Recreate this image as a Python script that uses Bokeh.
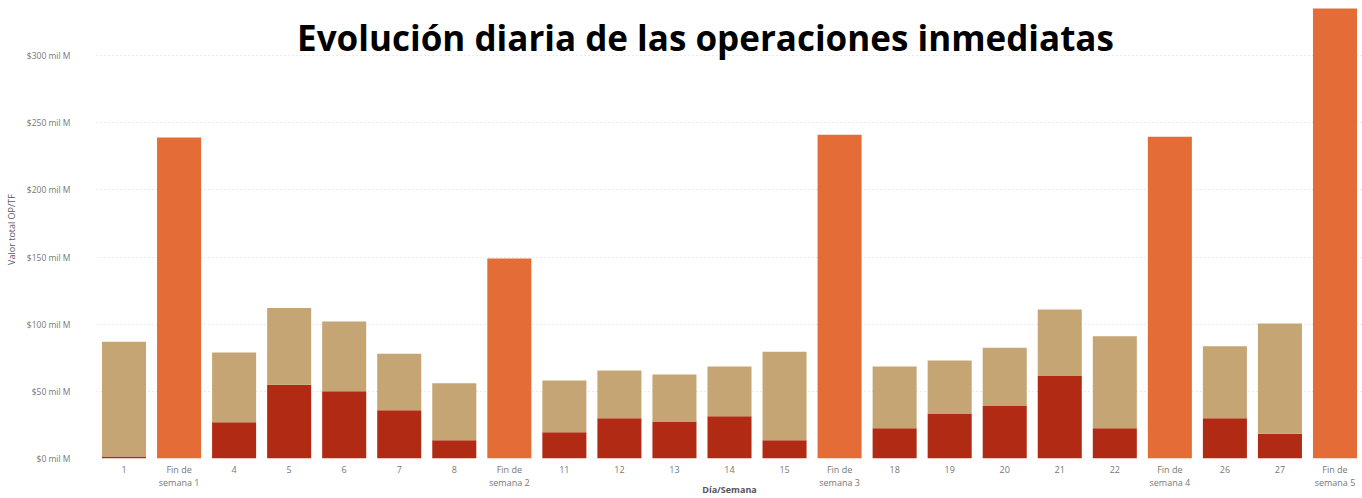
from bokeh.plotting import figure
from bokeh.models import ColumnDataSource, FactorRange, Range1d, Label, FixedTicker, CustomJSTickFormatter
from bokeh.embed import file_html
from bokeh.resources import INLINE

categorias = ["1", "Fin de\nsemana 1", "4", "5", "6", "7", "8", "Fin de\nsemana 2",
              "11", "12", "13", "14", "15", "Fin de\nsemana 3", "18", "19", "20", "21", "22",
              "Fin de\nsemana 4", "26", "27", "Fin de\nsemana 5"]
# valores en miles de millones (mil M)
total_dia = [87, 0, 79, 112, 102, 78, 56, 0,
             58, 65.5, 62.5, 68.5, 79.5, 0, 68.5, 73, 82.5, 111, 91,
             0, 83.5, 100.5, 0]
serie_roja = [1.5, 0, 27, 55, 50, 36, 13.5, 0,
              19.5, 30, 27.5, 31.5, 13.5, 0, 22.5, 33.5, 39, 61.5, 22.5,
              0, 30, 18.5, 0]
fin_de_semana = [0, 239, 0, 0, 0, 0, 0, 149,
                 0, 0, 0, 0, 0, 241, 0, 0, 0, 0, 0,
                 239.5, 0, 0, 335]
y_ticks = [0, 50, 100, 150, 200, 250, 300]

serie_tan = [t - r for t, r in zip(total_dia, serie_roja)]

source = ColumnDataSource(dict(cat=categorias, roja=serie_roja, tan=serie_tan, fin=fin_de_semana))

p = figure(x_range=FactorRange(*categorias), y_range=Range1d(0, 341),
           width=1362, height=498, output_backend="svg", toolbar_location=None,
           min_border_top=0, min_border_right=0, min_border_left=96, min_border_bottom=0)

p.vbar_stack(["roja", "tan", "fin"], x="cat", width=0.8, source=source,
             color=["#B02A14", "#C4A573", "#E46C37"], line_color=None)

p.outline_line_color = None
p.xgrid.grid_line_color = None
p.ygrid.grid_line_color = "#D6D6D6"
p.ygrid.grid_line_dash = "1 3"
p.ygrid.grid_line_width = 1

p.yaxis.ticker = FixedTicker(ticks=y_ticks)
p.yaxis.formatter = CustomJSTickFormatter(code="return '$' + tick + ' mil M';")
p.yaxis.axis_line_color = None
p.yaxis.major_tick_line_color = None
p.yaxis.minor_tick_line_color = None
p.yaxis.major_label_text_font = "Open Sans"
p.yaxis.major_label_text_font_size = "8.5px"
p.yaxis.major_label_text_color = "#777777"
p.yaxis.major_label_standoff = 20
p.yaxis.axis_label = "Valor total OP/TF"
p.yaxis.axis_label_text_font = "Open Sans"
p.yaxis.axis_label_text_font_style = "normal"
p.yaxis.axis_label_text_font_size = "9px"
p.yaxis.axis_label_text_color = "#555555"
p.yaxis.axis_label_standoff = 6

p.xaxis.axis_line_color = None
p.xaxis.major_tick_line_color = None
p.xaxis.minor_tick_line_color = None
p.xaxis.major_tick_out = 0
p.xaxis.major_tick_in = 0
p.xaxis.major_label_text_font = "Open Sans"
p.xaxis.major_label_text_font_size = "9px"
p.xaxis.major_label_text_line_height = 1.0
p.xaxis.major_label_text_color = "#777777"
p.xaxis.major_label_standoff = 4
p.xaxis.axis_label = "Día/Semana"
p.xaxis.axis_label_text_font = "Open Sans"
p.xaxis.axis_label_text_font_style = "bold"
p.xaxis.axis_label_text_font_size = "9px"
p.xaxis.axis_label_text_color = "#555555"
p.xaxis.axis_label_standoff = -9

titulo = Label(x=609, y=421, x_units="screen", y_units="screen",
               text="Evolución diaria de las operaciones inmediatas",
               text_font="Open Sans", text_font_style="bold", text_font_size="35px",
               text_color="#000000", text_align="center", text_baseline="alphabetic")
p.add_layout(titulo)

open("out.html", "w").write(file_html(p, INLINE))
